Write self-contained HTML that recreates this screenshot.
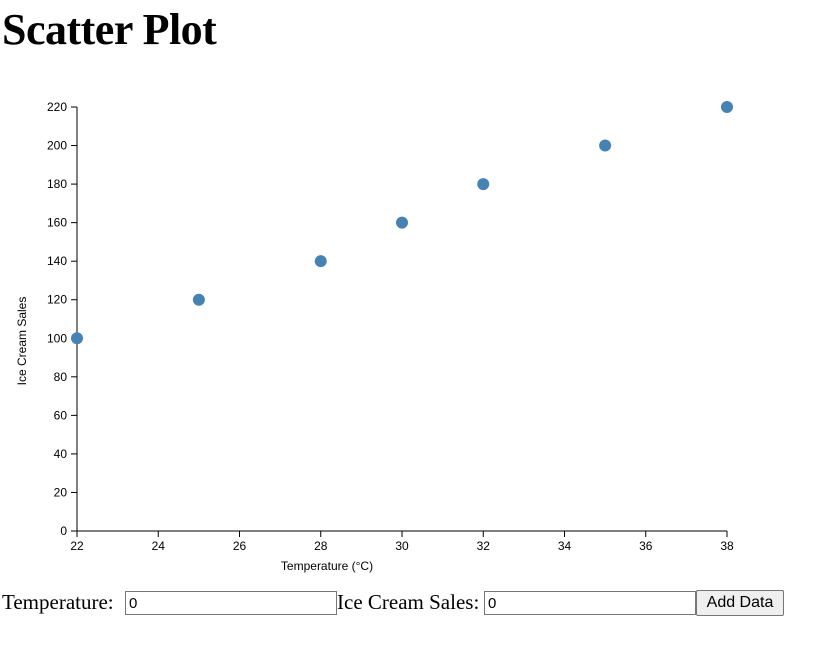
<!DOCTYPE html>
<html><head><meta charset="utf-8">
<style>
body{margin:0;width:816px;height:662px;background:#fff;font-family:"Liberation Serif",serif;position:relative;overflow:hidden}
h1{position:absolute;left:2px;top:4px;margin:0;font-size:44px;font-weight:bold;letter-spacing:-0.5px}
#form{position:absolute;left:2px;top:590px;font-size:21px;white-space:nowrap;height:28px}
#form span,#form input,#form button{position:absolute}
input{height:24px;box-sizing:border-box;border:1px solid #767676;font-family:"Liberation Sans",sans-serif;font-size:15px;padding:1px 3px}
button{height:26px;box-sizing:border-box;border:1px solid #767676;background:#efefef;font-family:"Liberation Sans",sans-serif;font-size:16px;border-radius:2px}
svg text{font-family:"Liberation Sans",sans-serif;font-size:12px}
</style></head><body>
<h1>Scatter Plot</h1>
<svg id="chart" width="816" height="580" style="position:absolute;left:0;top:0"></svg>
<div id="form">
<span style="left:0;top:0">Temperature:</span>
<input style="left:123px;top:1px;width:212px" value="0">
<span style="left:335px;top:0">Ice Cream Sales:</span>
<input style="left:482px;top:1px;width:212px" value="0">
<button style="left:694px;top:0;width:88px">Add Data</button>
</div>
<script>
const temps=[22,25,28,30,32,35,38];
const sales=[100,120,140,160,180,200,220];
const xTicks=[22,24,26,28,30,32,34,36,38];
const yTicks=[0,20,40,60,80,100,120,140,160,180,200,220];
const NS="http://www.w3.org/2000/svg";
const svg=document.getElementById('chart');
const x=v=>77+(v-22)*(650/16);
const y=v=>531-v*(424/220);
function mk(t,a){const e=document.createElementNS(NS,t);for(const k in a)e.setAttribute(k,a[k]);svg.appendChild(e);return e;}
let ax=mk('line',{x1:77,y1:531,x2:727,y2:531,stroke:'#000'});


let ay=mk('line',{x1:77,y1:107,x2:77,y2:531,stroke:'#000'});


xTicks.forEach(v=>{
 mk('line',{x1:x(v),x2:x(v),y1:531,y2:537,stroke:'#000'});
 const t=mk('text',{x:x(v),y:550,'text-anchor':'middle'});t.textContent=v;
 
 
});
yTicks.forEach(v=>{
 mk('line',{x1:71,x2:77,y1:y(v),y2:y(v),stroke:'#000'});
 const t=mk('text',{x:67,y:y(v)+4,'text-anchor':'end'});t.textContent=v;
 
 
});
let xt=mk('text',{x:327,y:570,'text-anchor':'middle'});xt.textContent='Temperature (°C)';


let yt=mk('text',{x:0,y:0,'text-anchor':'middle',transform:'translate(26,341) rotate(-90)'});yt.textContent='Ice Cream Sales';


temps.forEach((t,i)=>{
 const c=mk('circle',{cx:x(t),cy:y(sales[i]),r:6,fill:'steelblue'});
 
 
});
</script>
</body></html>
